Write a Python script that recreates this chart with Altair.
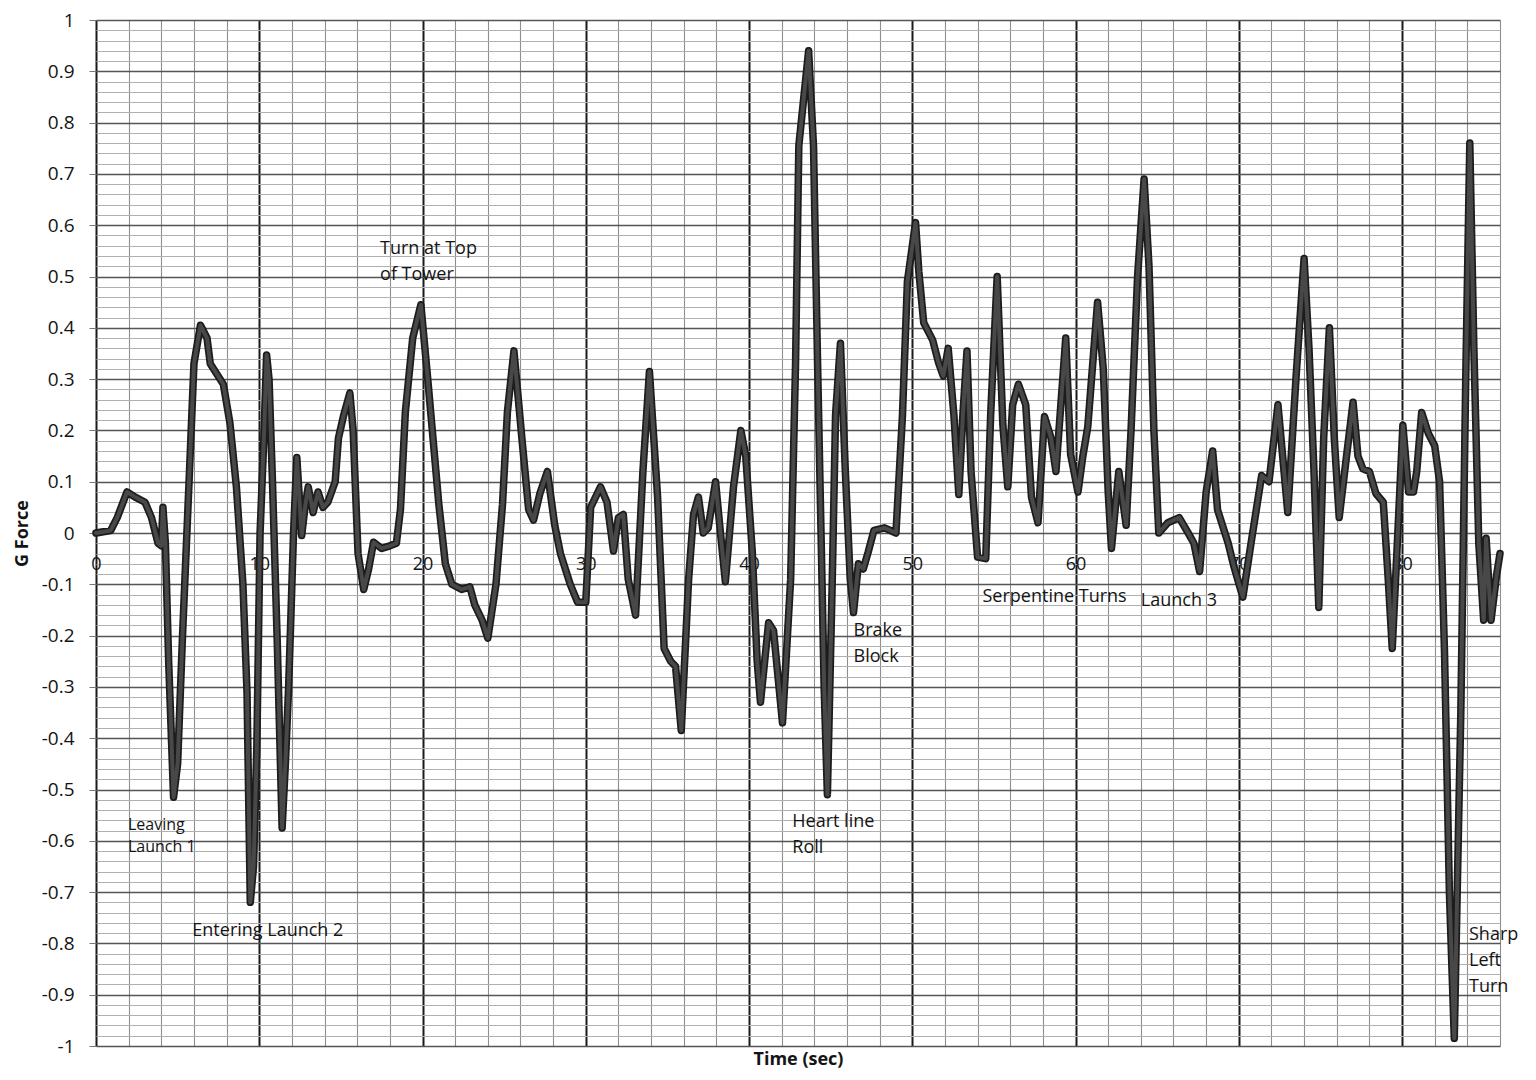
import altair as alt
import pandas as pd

# ---- series ----
T = [0.0, 0.9, 1.3, 1.9, 2.4, 3.0, 3.4, 3.8, 4.0, 4.1, 4.25, 4.45, 4.75, 5.0, 5.3, 5.7, 6.0, 6.4,
     6.8, 7.0, 7.4, 7.8, 8.2, 8.6, 9.0, 9.25, 9.45, 9.65, 9.85, 10.05, 10.3, 10.45, 10.6, 10.8,
     11.1, 11.4, 11.6, 11.8, 12.1, 12.3, 12.6, 12.8, 13.0, 13.3, 13.6, 13.9, 14.2, 14.65, 14.85,
     15.15, 15.55, 15.75, 16.05, 16.4, 16.7, 17.0, 17.5, 18.0, 18.4, 18.65, 18.95, 19.4, 19.9,
     20.35, 21.0, 21.4, 21.8, 22.4, 22.9, 23.2, 23.65, 24.0, 24.5, 24.9, 25.2, 25.6, 26.1, 26.5,
     26.8, 27.2, 27.65, 28.1, 28.45, 29.05, 29.5, 30.0, 30.3, 30.9, 31.3, 31.7, 32.0, 32.3, 32.6,
     33.05, 33.5, 33.9, 34.4, 34.8, 35.2, 35.5, 35.85, 36.3, 36.6, 36.9, 37.2, 37.5, 37.95, 38.25,
     38.55, 39.05, 39.5, 39.8, 40.2, 40.5, 40.7, 41.2, 41.5, 42.05, 42.55, 42.85, 43.05, 43.65,
     43.95, 44.2, 44.4, 44.6, 44.8, 45.1, 45.3, 45.6, 45.9, 46.2, 46.4, 46.7, 47.0, 47.3, 47.65,
     48.3, 49.0, 49.4, 49.7, 50.2, 50.4, 50.7, 51.25, 51.6, 51.9, 52.2, 52.55, 52.85, 53.1, 53.35,
     53.6, 54.0, 54.5, 54.8, 55.2, 55.55, 55.85, 56.15, 56.5, 56.95, 57.3, 57.7, 58.1, 58.5, 58.8,
     59.4, 59.7, 60.15, 60.45, 60.75, 61.35, 61.7, 62.0, 62.2, 62.65, 63.1, 63.4, 63.8, 64.2, 64.5,
     64.8, 65.1, 65.65, 66.35, 66.9, 67.25, 67.6, 68.0, 68.4, 68.7, 69.35, 69.7, 70.25, 70.75,
     71.4, 71.85, 72.4, 73.0, 73.5, 74.0, 74.3, 74.6, 74.9, 75.2, 75.55, 75.85, 76.15, 76.6, 77.0,
     77.3, 77.6, 78.0, 78.4, 78.85, 79.15, 79.4, 79.75, 80.05, 80.4, 80.7, 80.9, 81.2, 81.6, 82.0,
     82.3, 82.6, 82.9, 83.2, 83.6, 83.9, 84.15, 84.4, 84.7, 85.0, 85.15, 85.45, 85.8, 86.0]
G = [0.0, 0.005, 0.03, 0.08, 0.07, 0.06, 0.03, -0.02, -0.025, 0.05, -0.02, -0.25, -0.515, -0.45,
     -0.2, 0.1, 0.33, 0.405, 0.38, 0.33, 0.31, 0.29, 0.215, 0.09, -0.1, -0.31, -0.72, -0.65, -0.42,
     0.0, 0.2, 0.347, 0.3, 0.11, -0.21, -0.575, -0.45, -0.3, 0.0, 0.147, -0.005, 0.05, 0.09, 0.04,
     0.08, 0.05, 0.06, 0.1, 0.185, 0.227, 0.273, 0.2, -0.04, -0.11, -0.07, -0.018, -0.03, -0.025,
     -0.02, 0.046, 0.236, 0.38, 0.445, 0.29, 0.056, -0.06, -0.1, -0.11, -0.105, -0.14, -0.17,
     -0.205, -0.1, 0.056, 0.236, 0.355, 0.18, 0.046, 0.025, 0.078, 0.12, 0.015, -0.04, -0.1,
     -0.135, -0.135, 0.05, 0.09, 0.06, -0.035, 0.03, 0.036, -0.09, -0.16, 0.12, 0.315, 0.07,
     -0.225, -0.25, -0.26, -0.385, -0.09, 0.036, 0.07, 0.0, 0.01, 0.1, 0.0, -0.095, 0.09, 0.2,
     0.15, -0.037, -0.25, -0.33, -0.175, -0.19, -0.37, -0.09, 0.33, 0.755, 0.94, 0.755, 0.33,
     0.017, -0.3, -0.51, -0.09, 0.23, 0.37, 0.12, -0.09, -0.155, -0.06, -0.07, -0.037, 0.005,
     0.01, 0.0, 0.23, 0.49, 0.605, 0.51, 0.41, 0.376, 0.333, 0.306, 0.36, 0.23, 0.075, 0.23,
     0.355, 0.12, -0.047, -0.05, 0.23, 0.5, 0.21, 0.09, 0.25, 0.29, 0.25, 0.07, 0.02, 0.227,
     0.185, 0.12, 0.38, 0.153, 0.08, 0.15, 0.207, 0.45, 0.32, 0.08, -0.03, 0.12, 0.015, 0.2, 0.5,
     0.69, 0.52, 0.2, 0.0, 0.02, 0.03, 0.0, -0.02, -0.075, 0.08, 0.16, 0.045, -0.02, -0.065,
     -0.125, -0.02, 0.112, 0.1, 0.25, 0.04, 0.3, 0.535, 0.36, 0.125, -0.145, 0.185, 0.4, 0.185,
     0.03, 0.15, 0.255, 0.15, 0.125, 0.12, 0.077, 0.06, -0.088, -0.225, 0.006, 0.21, 0.08, 0.08,
     0.12, 0.235, 0.195, 0.17, 0.1, -0.23, -0.7, -0.985, -0.35, 0.3, 0.76, 0.36, -0.02, -0.17,
     -0.01, -0.17, -0.08, -0.04]

# ---- annotations ----
ANN_TEXT = ["Turn at Top\nof Tower", "Entering Launch 2", "Heart line\nRoll", "Brake\nBlock",
            "Serpentine Turns", "Launch 3", "Sharp\nLeft\nTurn"]
ANN_T = [17.4, 5.9, 42.65, 46.4, 54.3, 64.0, 84.1]
ANN_G = [0.554, -0.775, -0.564, -0.192, -0.124, -0.132, -0.783]
SMALL_TEXT = ["Leaving\nLaunch 1"]
SMALL_T = [1.96]
SMALL_G = [-0.57]

# ---- tick values ----
X_MAJOR = [0, 10, 20, 30, 40, 50, 60, 70, 80]
X_MINOR = [v for v in range(2, 87, 2) if v % 10 != 0]
Y_MAJOR = [-1, -0.9, -0.8, -0.7, -0.6, -0.5, -0.4, -0.3, -0.2, -0.1, 0,
           0.1, 0.2, 0.3, 0.4, 0.5, 0.6, 0.7, 0.8, 0.9, 1]
Y_MINOR = [i / 50 for i in range(-50, 51) if i % 5 != 0]

df = pd.DataFrame({"t": T, "g": G})
ann = pd.DataFrame({"label": ANN_TEXT, "t": ANN_T, "g": ANN_G})
ann_small = pd.DataFrame({"label": SMALL_TEXT, "t": SMALL_T, "g": SMALL_G})

W, H = 1404, 1026
FONT = "Open Sans"
INK = "#141414"
xs = alt.Scale(domain=[0, 86], nice=False, zero=False)
ys = alt.Scale(domain=[-1, 1], nice=False, zero=False)

# minor grid (invisible mark carrying the minor axes)
minor = alt.Chart(df).mark_line(strokeOpacity=0).encode(
    x=alt.X("t:Q", scale=xs, axis=alt.Axis(orient="top", values=X_MINOR, grid=True,
                                           gridColor="#8e8e8e", gridWidth=1.1, labels=False,
                                           ticks=False, domain=False, title=None)),
    y=alt.Y("g:Q", scale=ys, axis=alt.Axis(orient="right", values=Y_MINOR, grid=True,
                                           gridColor="#b0b0b0", gridWidth=1, labels=False,
                                           ticks=False, domain=False, title=None)),
)

outer = alt.Chart(df).mark_line(color="#1c1c1c", strokeWidth=7.5, strokeJoin="round",
                                strokeCap="round").encode(
    x=alt.X("t:Q", scale=xs, axis=alt.Axis(
        orient="bottom", values=X_MAJOR, grid=True, gridColor="#1a1a1a", gridWidth=2,
        ticks=False, domain=False, offset=-H / 2, labelPadding=22, labelFlush=False,
        labelFont=FONT, labelFontSize=18, labelColor=INK, format="d",
        title="Time (sec)", titleFont=FONT, titleFontSize=18, titleFontWeight="bold",
        titleColor=INK, titleX=W / 2, titleY=526, titleAlign="center",
        titleBaseline="middle")),
    y=alt.Y("g:Q", scale=ys, axis=alt.Axis(
        orient="left", values=Y_MAJOR, grid=True, gridColor="#555555", gridWidth=1.4,
        ticks=True, tickSize=7, tickColor="#777777", domain=False, labelPadding=15,
        labelFont=FONT, labelFontSize=19, labelColor=INK,
        labelExpr="(datum.value < 0 ? '-' : '') + format(abs(datum.value), '~g')",
        title="G Force", titleFont=FONT, titleFontSize=18, titleFontWeight="bold",
        titleColor=INK, titleAngle=270, titleX=-74, titleY=H / 2,
        titleAlign="center", titleBaseline="middle")),
)

inner = alt.Chart(df).mark_line(color="#484848", strokeWidth=4, strokeJoin="round",
                                strokeCap="round").encode(
    x=alt.X("t:Q", scale=xs, axis=None),
    y=alt.Y("g:Q", scale=ys, axis=None),
)

labels = alt.Chart(ann).mark_text(align="left", baseline="middle", font=FONT, fontSize=18,
                                  color=INK, lineBreak="\n", lineHeight=26).encode(
    x=alt.X("t:Q", scale=xs, axis=None),
    y=alt.Y("g:Q", scale=ys, axis=None),
    text="label:N",
)

labels_small = alt.Chart(ann_small).mark_text(align="left", baseline="middle", font=FONT,
                                              fontSize=16, color=INK, lineBreak="\n",
                                              lineHeight=22).encode(
    x=alt.X("t:Q", scale=xs, axis=None),
    y=alt.Y("g:Q", scale=ys, axis=None),
    text="label:N",
)

chart = alt.layer(minor, outer, inner, labels, labels_small).resolve_axis(
    x="independent", y="independent"
).properties(
    width=W, height=H, autosize="none",
    padding={"left": 88, "top": 12, "right": 28, "bottom": 26},
    background="white",
).configure_view(strokeWidth=0)

chart.save("out.html", embed_options={"renderer": "svg", "actions": False})
